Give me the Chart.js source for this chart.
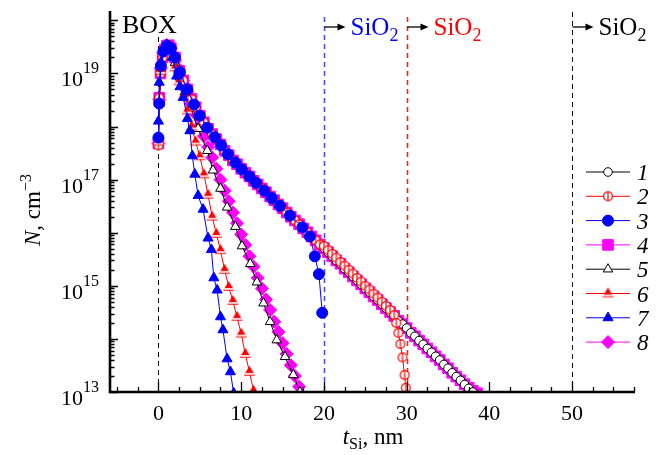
<!DOCTYPE html>
<html>
<head>
<meta charset="utf-8">
<script src="https://cdn.jsdelivr.net/npm/chart.js@4.4.1/dist/chart.umd.min.js"></script>
<style>
  html, body { margin: 0; padding: 0; background: #fff; }
  #wrap { width: 657px; height: 455px; }
</style>
</head>
<body>
<div id="wrap"><canvas id="profileChart" width="657" height="455"></canvas></div>
<script>
// t_Si (nm) and N (cm^-3) for each curve
const x1 = [0, 0.1, 0.25, 0.5, 0.75, 1, 1.25, 1.5, 2, 2.5, 3, 3.5, 4, 4.5, 5, 5.5, 6, 6.5, 7, 7.5, 8, 8.5, 9, 9.5, 10, 10.5, 11, 11.5, 12, 12.5, 13, 13.5, 14, 14.5, 15, 15.5, 16, 16.5, 17, 17.5, 18, 18.5, 19, 19.5, 20, 20.5, 21, 21.5, 22, 22.5, 23, 23.5, 24, 24.5, 25, 25.5, 26, 26.5, 27, 27.5, 28, 28.5, 29, 29.5, 30, 30.5, 31, 31.5, 32, 32.5, 33, 33.5, 34, 34.5, 35, 35.5, 36, 36.5, 37, 37.5, 38];
const n1 = [4.5e17, 3.5e18, 1.0e19, 2.0e19, 2.8e19, 3.3e19, 3.4e19, 3.0e19, 2.0e19, 1.12e19, 7.4e18, 5.0e18, 3.3e18, 2.3e18, 1.6e18, 1.2e18, 9.1e17, 7.2e17, 5.8e17, 4.6e17, 3.5e17, 2.9e17, 2.3e17, 1.95e17, 1.6e17, 1.35e17, 1.15e17, 9.5e16, 8.1e16, 6.8e16, 5.8e16, 4.8e16, 4.1e16, 3.4e16, 2.9e16, 2.4e16, 2.0e16, 1.7e16, 1.45e16, 1.2e16, 1.02e16, 8.5e15, 7.2e15, 6.0e15, 5.1e15, 4.3e15, 3.6e15, 3.0e15, 2.6e15, 2.1e15, 1.8e15, 1.5e15, 1.26e15, 1.07e15, 8.9e14, 7.6e14, 6.3e14, 5.4e14, 4.5e14, 3.8e14, 3.2e14, 2.7e14, 2.2e14, 1.9e14, 1.6e14, 1.3e14, 1.12e14, 9.3e13, 7.9e13, 6.6e13, 5.6e13, 4.7e13, 4.0e13, 3.3e13, 2.8e13, 2.3e13, 1.95e13, 1.66e13, 1.38e13, 1.17e13, 1.0e13];

const x2 = [0, 0.1, 0.25, 0.5, 0.75, 1, 1.25, 1.5, 2, 2.5, 3, 3.5, 4, 4.5, 5, 5.5, 6, 6.5, 7, 7.5, 8, 8.5, 9, 9.5, 10, 10.5, 11, 11.5, 12, 12.5, 13, 13.5, 14, 14.5, 15, 15.5, 16, 16.5, 17, 17.5, 18, 18.5, 19, 19.5, 20, 20.5, 21, 21.5, 22, 22.5, 23, 23.5, 24, 24.5, 25, 25.5, 26, 26.5, 27, 27.5, 28, 28.5, 28.75, 29, 29.25, 29.5, 29.75, 29.9];
const n2 = [4.4e17, 3.5e18, 1.0e19, 2.0e19, 2.8e19, 3.3e19, 3.4e19, 3.0e19, 2.0e19, 1.12e19, 7.4e18, 5.0e18, 3.3e18, 2.3e18, 1.6e18, 1.2e18, 9.1e17, 7.2e17, 5.8e17, 4.6e17, 3.5e17, 2.9e17, 2.3e17, 1.95e17, 1.6e17, 1.35e17, 1.15e17, 9.5e16, 8.1e16, 6.8e16, 5.8e16, 4.8e16, 4.1e16, 3.4e16, 2.9e16, 2.4e16, 2.0e16, 1.7e16, 1.45e16, 1.2e16, 1.02e16, 8.5e15, 7.2e15, 6.0e15, 5.6e15, 4.7e15, 4.0e15, 3.4e15, 2.8e15, 2.4e15, 2.0e15, 1.7e15, 1.41e15, 1.2e15, 1.0e15, 8.5e14, 7.1e14, 6.0e14, 5.0e14, 4.2e14, 3.5e14, 2.8e14, 2.0e14, 1.3e14, 8.0e13, 4.5e13, 2.1e13, 1.2e13];

const x3 = [0, 0.1, 0.3, 0.6, 1.0, 1.5, 2.0, 2.6, 3.5, 4.3, 5.0, 5.9, 6.8, 7.6, 8.4, 9.3, 10.1, 11.0, 11.8, 12.8, 13.7, 14.7, 15.9, 17.4, 18.3, 18.9, 19.4, 19.8];
const n3 = [6.2e17, 2.7e18, 1.4e19, 2.6e19, 3.3e19, 3.0e19, 2.0e19, 1.05e19, 5.0e18, 2.6e18, 1.6e18, 9.5e17, 6.3e17, 4.4e17, 3.0e17, 2.1e17, 1.55e17, 1.15e17, 8.7e16, 6.2e16, 4.5e16, 3.2e16, 2.1e16, 1.26e16, 8.5e15, 3.6e15, 1.66e15, 3.1e14];

const x4 = [0, 0.1, 0.25, 0.5, 0.75, 1, 1.25, 1.5, 2, 2.5, 3, 3.5, 4, 4.5, 5, 5.5, 6, 6.5, 7, 7.5, 8, 8.5, 9, 9.5, 10, 10.5, 11, 11.5, 12, 12.5, 13, 13.5, 14, 14.5, 15, 15.5, 16, 16.5, 17, 17.5, 18, 18.5, 19, 19.5, 20, 20.5, 21, 21.5, 22, 22.5, 23, 23.5, 24, 24.5, 25, 25.5, 26, 26.5, 27, 27.5, 28, 28.5, 29, 29.5, 30, 30.5, 31, 31.5, 32, 32.5, 33, 33.5, 34, 34.5, 35, 35.5, 36, 36.5, 37, 37.5, 38, 38.5];
const n4 = [4.8e17, 3.5e18, 1.0e19, 2.0e19, 2.8e19, 3.3e19, 3.4e19, 3.0e19, 2.0e19, 1.12e19, 7.4e18, 5.0e18, 3.3e18, 2.3e18, 1.6e18, 1.2e18, 9.1e17, 7.2e17, 5.8e17, 4.6e17, 3.5e17, 2.9e17, 2.3e17, 1.95e17, 1.6e17, 1.35e17, 1.15e17, 9.5e16, 8.1e16, 6.8e16, 5.8e16, 4.8e16, 4.1e16, 3.4e16, 2.9e16, 2.4e16, 2.0e16, 1.7e16, 1.45e16, 1.2e16, 1.02e16, 8.5e15, 7.2e15, 6.0e15, 5.1e15, 4.3e15, 3.6e15, 3.0e15, 2.6e15, 2.1e15, 1.8e15, 1.5e15, 1.26e15, 1.07e15, 8.9e14, 7.6e14, 6.3e14, 5.4e14, 4.5e14, 3.8e14, 3.2e14, 2.7e14, 2.2e14, 1.9e14, 1.6e14, 1.3e14, 1.12e14, 9.3e13, 7.9e13, 6.6e13, 5.6e13, 4.7e13, 4.0e13, 3.3e13, 2.8e13, 2.3e13, 1.95e13, 1.66e13, 1.4e13, 1.2e13, 1.05e13, 9.5e12];

const x5 = [0, 0.1, 0.3, 0.6, 1.0, 1.4, 2.0, 2.6, 3.2, 3.9, 4.8, 5.9, 6.6, 7.5, 8.3, 9.3, 10.1, 11.1, 11.9, 12.7, 13.5, 14.3, 15.3, 16.3, 17.1];
const n5 = [5.0e17, 3.2e18, 1.26e19, 2.5e19, 3.3e19, 3.2e19, 1.6e19, 8.5e18, 4.5e18, 2.2e18, 9.1e17, 3.5e17, 1.5e17, 6.8e16, 3.0e16, 1.3e16, 5.6e15, 2.6e15, 1.17e15, 4.7e14, 2.1e14, 9.5e13, 4.6e13, 2.1e13, 1.0e13];

const x6 = [0, 0.1, 0.3, 0.6, 1.0, 1.4, 2.0, 2.5, 3.0, 3.5, 4.0, 4.5, 5.0, 5.5, 6.0, 6.5, 7.0, 7.5, 8.0, 8.5, 9.0, 9.5, 10.0, 10.5, 11.0, 11.5];
const n6 = [5.2e17, 2.8e18, 1.12e19, 2.4e19, 3.2e19, 2.8e19, 1.3e19, 7.1e18, 3.8e18, 2.0e18, 1.0e18, 5.2e17, 2.75e17, 1.26e17, 5.2e16, 2.0e16, 9.5e15, 4.7e15, 2.0e15, 9.5e14, 5.2e14, 2.6e14, 1.26e14, 5.2e13, 2.4e13, 1.05e13];

const x7 = [0, 0.1, 0.3, 0.6, 1.0, 1.3, 1.7, 2.2, 2.6, 3.0, 3.5, 3.8, 4.1, 4.4, 4.8, 5.4, 6.0, 6.4, 6.7, 7.1, 7.5, 7.8, 8.3, 8.7, 9.1];
const n7 = [1.26e18, 6.8e18, 1.6e19, 2.6e19, 3.5e19, 3.3e19, 2.0e19, 8.9e18, 5.6e18, 3.5e18, 1.41e18, 8.3e17, 2.8e17, 1.26e17, 5.0e16, 2.75e16, 7.9e15, 4.8e15, 1.41e15, 8.3e14, 2.6e14, 1.48e14, 4.2e13, 2.4e13, 9.5e12];

const x8 = [0, 0.1, 0.3, 0.6, 1.0, 1.5, 2.0, 2.5, 3.0, 3.5, 4.0, 4.5, 5.0, 5.5, 6.0, 6.5, 7.0, 7.5, 8.0, 8.5, 9.0, 9.5, 10.0, 10.5, 11.0, 11.5, 12.0, 12.5, 13.0, 13.5, 14.0, 14.5, 15.0, 15.5, 16.0, 16.5, 17.0, 17.5];
const n8 = [4.8e17, 3.2e18, 1.26e19, 2.5e19, 3.4e19, 3.0e19, 1.8e19, 1.2e19, 7.4e18, 4.5e18, 2.7e18, 1.7e18, 1.05e18, 6.6e17, 4.1e17, 2.6e17, 1.6e17, 1.0e17, 6.2e16, 3.9e16, 2.4e16, 1.51e16, 9.3e15, 5.9e15, 3.6e15, 2.3e15, 1.41e15, 8.9e14, 5.5e14, 3.5e14, 2.1e14, 1.35e14, 8.3e13, 5.2e13, 3.2e13, 2.0e13, 1.26e13, 7.9e12];

const seriesLabels = ['1', '2', '3', '4', '5', '6', '7', '8'];
const xTickLabels = [0, 10, 20, 30, 40, 50];
const yTickExps = [13, 15, 17, 19];
const boundaries = [0, 20, 30, 50];   // BOX edge and the three Si/SiO2 interfaces

const SERIF = '"Liberation Serif", "DejaVu Serif", serif';

function pts(xs, ys) {
  return xs.map((v, i) => ({ x: v, y: ys[i] }));
}

// special markers: circle with a vertical bar, triangle with a white stripe
function barCircle() {
  const c = document.createElement('canvas');
  c.width = 12; c.height = 12;
  const g = c.getContext('2d');
  g.beginPath();
  g.arc(6, 6, 4.4, 0, 2 * Math.PI);
  g.fillStyle = '#fff';
  g.fill();
  g.strokeStyle = '#ff0000';
  g.lineWidth = 1.2;
  g.stroke();
  g.beginPath();
  g.moveTo(6, 1.6);
  g.lineTo(6, 10.4);
  g.stroke();
  return c;
}

function stripeTri() {
  const c = document.createElement('canvas');
  c.width = 15; c.height = 16;
  const g = c.getContext('2d');
  const r = 6.6, cx = 7.5, cy = 8.5;
  g.beginPath();
  g.moveTo(cx, cy - r);
  g.lineTo(cx + 0.866 * r, cy + 0.5 * r);
  g.lineTo(cx - 0.866 * r, cy + 0.5 * r);
  g.closePath();
  g.fillStyle = '#ff0000';
  g.fill();
  g.save();
  g.clip();
  g.fillStyle = '#fff';
  g.fillRect(0, cy + 0.1 * r, 15, 1.6);
  g.restore();
  return c;
}

const RED_BAR = barCircle();
const RED_TRI = stripeTri();

function ds(label, xs, ys, color, style, radius, fill) {
  return {
    label: label,
    data: pts(xs, ys),
    borderColor: color,
    borderWidth: 1,
    pointStyle: style,
    pointRadius: radius,
    pointBackgroundColor: fill,
    pointBorderColor: color,
    pointBorderWidth: 1,
    tension: 0,
    fill: false
  };
}

const sets = {
  s1: ds('1', x1, n1, '#000000', 'circle', 4.3, '#ffffff'),
  s2: ds('2', x2, n2, '#ff0000', RED_BAR, 4.4, '#ffffff'),
  s3: ds('3', x3, n3, '#0000ff', 'circle', 5.5, '#0000ff'),
  s4: ds('4', x4, n4, '#ff00ff', 'rect', 7.5, '#ff00ff'),
  s5: ds('5', x5, n5, '#000000', 'triangle', 5.5, '#ffffff'),
  s6: ds('6', x6, n6, '#ff0000', RED_TRI, 6.6, '#ff0000'),
  s7: ds('7', x7, n7, '#0000ff', 'triangle', 5.8, '#0000ff'),
  s8: ds('8', x8, n8, '#ff00ff', 'rectRot', 6.5, '#ff00ff')
};

function drawMark(ctx, d, x, y) {
  const st = d.pointStyle, r = d.pointRadius;
  if (st instanceof HTMLCanvasElement) {
    ctx.drawImage(st, x - st.width / 2, y - st.height / 2);
    return;
  }
  ctx.beginPath();
  if (st === 'circle') {
    ctx.arc(x, y, r, 0, 2 * Math.PI);
  } else if (st === 'rect') {
    const s = r * Math.SQRT1_2;
    ctx.rect(x - s, y - s, 2 * s, 2 * s);
  } else if (st === 'triangle') {
    ctx.moveTo(x, y - r);
    ctx.lineTo(x + 0.866 * r, y + 0.5 * r);
    ctx.lineTo(x - 0.866 * r, y + 0.5 * r);
    ctx.closePath();
  } else if (st === 'rectRot') {
    ctx.moveTo(x, y - r);
    ctx.lineTo(x + r, y);
    ctx.lineTo(x, y + r);
    ctx.lineTo(x - r, y);
    ctx.closePath();
  }
  ctx.fillStyle = d.pointBackgroundColor;
  ctx.fill();
  ctx.lineWidth = 1;
  ctx.strokeStyle = d.pointBorderColor;
  ctx.stroke();
}

// text with a raised / lowered small part
function textRun(ctx, parts, x, y) {
  let cx = x;
  parts.forEach(p => {
    ctx.font = p.font;
    ctx.fillText(p.t, cx, y + (p.dy || 0));
    cx += ctx.measureText(p.t).width;
  });
  return cx;
}
function runWidth(ctx, parts) {
  let w = 0;
  parts.forEach(p => { ctx.font = p.font; w += ctx.measureText(p.t).width; });
  return w;
}

function arrow(ctx, x0, x1, y) {
  ctx.strokeStyle = '#000';
  ctx.fillStyle = '#000';
  ctx.lineWidth = 1.3;
  ctx.setLineDash([]);
  ctx.beginPath();
  ctx.moveTo(x0, y);
  ctx.lineTo(x1 - 6, y);
  ctx.stroke();
  ctx.beginPath();
  ctx.moveTo(x1, y);
  ctx.lineTo(x1 - 8, y - 3.5);
  ctx.lineTo(x1 - 8, y + 3.5);
  ctx.closePath();
  ctx.fill();
}

const decor = {
  id: 'decor',
  beforeDatasetsDraw(chart) {
    const { ctx, chartArea: a, scales: { x } } = chart;
    const looks = [
      { color: '#000000', top: 37, w: 1 },
      { color: '#4646ff', top: 17, w: 1.5 },
      { color: '#ff1a1a', top: 17, w: 1.6 },
      { color: '#000000', top: 12, w: 1 }
    ];
    ctx.save();
    boundaries.forEach((b, i) => {
      const px = Math.round(x.getPixelForValue(b)) + 0.5;
      ctx.strokeStyle = looks[i].color;
      ctx.lineWidth = looks[i].w;
      ctx.setLineDash([5, 4]);
      ctx.beginPath();
      ctx.moveTo(px, looks[i].top);
      ctx.lineTo(px, a.bottom);
      ctx.stroke();
    });
    ctx.restore();
  },
  afterDraw(chart) {
    const { ctx, chartArea: a, scales: { x, y } } = chart;
    ctx.save();
    ctx.setLineDash([]);

    // axis ticks (inside)
    ctx.strokeStyle = '#000';
    ctx.lineWidth = 1.3;
    ctx.beginPath();
    for (let e = 13; e <= 20; e++) {
      for (let k = 1; k <= 9; k++) {
        const v = k * Math.pow(10, e);
        if (v > y.max) break;
        const py = Math.round(y.getPixelForValue(v)) + 0.5;
        ctx.moveTo(a.left, py);
        ctx.lineTo(a.left + (k === 1 ? 8 : 4.5), py);
      }
    }
    for (let v = -5; v <= 57.5; v += 2.5) {
      const px = Math.round(x.getPixelForValue(v)) + 0.5;
      ctx.moveTo(px, a.bottom);
      ctx.lineTo(px, a.bottom - (v % 10 === 0 ? 10 : 5));
    }
    ctx.stroke();

    // axis lines
    ctx.lineWidth = 2.6;
    ctx.beginPath();
    ctx.moveTo(a.left, a.top);
    ctx.lineTo(a.left, a.bottom);
    ctx.lineTo(a.right, a.bottom);
    ctx.stroke();

    ctx.fillStyle = '#000';
    ctx.textBaseline = 'alphabetic';
    ctx.textAlign = 'left';

    // y tick labels 10^n
    yTickExps.forEach(e => {
      const py = y.getPixelForValue(Math.pow(10, e));
      const parts = [
        { t: '10', font: '22px ' + SERIF, dy: 13 },
        { t: String(e), font: '16px ' + SERIF, dy: 0 }
      ];
      const w = runWidth(ctx, parts);
      textRun(ctx, parts, 99 - w, py);
    });

    // x tick labels
    ctx.font = '22px ' + SERIF;
    ctx.textAlign = 'center';
    xTickLabels.forEach(v => {
      ctx.fillText(String(v), x.getPixelForValue(v), 420);
    });
    ctx.textAlign = 'left';

    // x title: t_Si, nm
    const xt = [
      { t: 't', font: 'italic 23px ' + SERIF },
      { t: 'Si', font: '16px ' + SERIF, dy: 5 },
      { t: ', nm', font: '23px ' + SERIF }
    ];
    textRun(ctx, xt, 373 - runWidth(ctx, xt) / 2, 444);

    // y title: N, cm^-3 (rotated)
    const yt = [
      { t: 'N', font: 'italic 23px ' + SERIF },
      { t: ', cm', font: '23px ' + SERIF },
      { t: '\u22123', font: '16px ' + SERIF, dy: -9 }
    ];
    ctx.save();
    ctx.translate(40, 210);
    ctx.rotate(-Math.PI / 2);
    textRun(ctx, yt, -runWidth(ctx, yt) / 2, 0);
    ctx.restore();

    // BOX and SiO2 labels
    ctx.font = '26px ' + SERIF;
    ctx.fillStyle = '#000';
    ctx.fillText('BOX', 122, 33);

    const sio2 = (color, bx) => {
      const px = Math.round(x.getPixelForValue(bx)) + 0.5;
      arrow(ctx, px, px + 21, 27);
      ctx.fillStyle = color;
      textRun(ctx, [
        { t: 'SiO', font: '25px ' + SERIF },
        { t: '2', font: '18px ' + SERIF, dy: 6 }
      ], px + 26, 35);
    };
    sio2('#0000ff', boundaries[1]);
    sio2('#ff0000', boundaries[2]);
    sio2('#000000', boundaries[3]);

    // legend
    const order = [sets.s1, sets.s2, sets.s3, sets.s4, sets.s5, sets.s6, sets.s7, sets.s8];
    order.forEach((d, i) => {
      const ly = 172 + i * 24.3;
      ctx.strokeStyle = d.borderColor;
      ctx.lineWidth = 1;
      ctx.beginPath();
      ctx.moveTo(586, ly);
      ctx.lineTo(630, ly);
      ctx.stroke();
      drawMark(ctx, d, 608, ly);
      ctx.fillStyle = '#000';
      ctx.font = 'italic 23px ' + SERIF;
      ctx.fillText(seriesLabels[i], 637, ly + 8);
    });

    ctx.restore();
  }
};

new Chart(document.getElementById('profileChart').getContext('2d'), {
  type: 'line',
  data: {
    // first entry is drawn on top
    datasets: [sets.s7, sets.s3, sets.s6, sets.s2, sets.s5, sets.s1, sets.s8, sets.s4]
  },
  options: {
    responsive: false,
    animation: false,
    events: [],
    layout: { padding: { left: 110, top: 11, right: 22, bottom: 63 } },
    scales: {
      x: { type: 'linear', min: -5.85, max: 57.6, display: false },
      y: { type: 'logarithmic', min: 1e13, max: 1.5e20, display: false }
    },
    plugins: {
      legend: { display: false },
      tooltip: { enabled: false }
    }
  },
  plugins: [decor]
});
</script>
</body>
</html>
